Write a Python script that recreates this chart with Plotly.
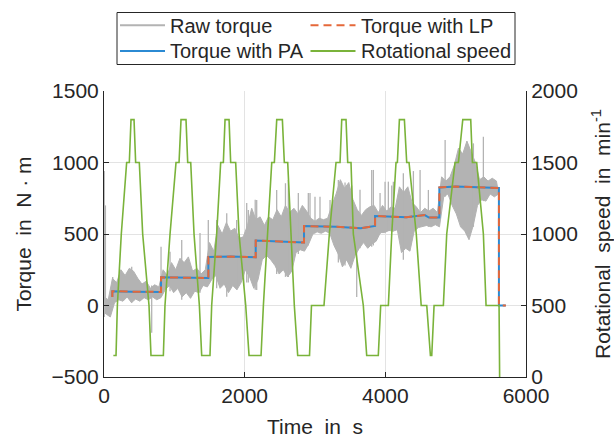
import plotly.graph_objects as go

# ---- raw torque band: upper / lower edge sampled every 60 s (N·m) ----
raw_time = list(range(0, 5581, 60))
raw_hi = [60, 40, 190, 160, 250, 210, 260, 240, 190, 150, 170, 120, 145, 130,
          250, 210, 300, 250, 330, 300, 340, 240, 260, 220, 250, 440, 380, 560,
          500, 580, 520, 540, 470, 480, 560, 680, 600, 620, 560, 620, 600, 670,
          620, 700, 650, 680, 640, 700, 660, 610, 590, 610, 600, 610, 700, 780,
          880, 820, 860, 740, 670, 630, 670, 690, 700, 650, 700, 660, 690, 680,
          830, 790, 830, 720, 690, 650, 680, 660, 680, 650, 900, 870, 900, 980,
          1100, 1060, 1150, 1080, 1000, 880, 900, 870, 890, 870]
raw_lo = [-60, -80, 20, 40, 30, 60, 20, 45, 30, 55, 40, 60, 40, 55,
          110, 140, 90, 120, 60, 90, 50, 100, 90, 140, 130, 180, 210, 120,
          150, 90, 140, 110, 160, 250, 200, 120, 180, 320, 350, 320, 280, 220,
          250, 200, 240, 370, 390, 380, 430, 500, 515, 505, 520, 505, 420, 360,
          270, 320, 260, 350, 400, 440, 400, 430, 450, 510, 510, 525, 520, 530,
          370, 400, 380, 520, 545, 550, 560, 550, 565, 550, 760, 780, 700, 640,
          550, 520, 460, 560, 700, 740, 730, 780, 760, 780]

# isolated peaks of the raw signal: time (s), low end, high end (N·m)
spike_time = [3, 20, 124, 394, 678, 811, 939, 1105, 1365, 1483, 1602, 1745,
              1886, 2029, 2052, 2150, 2171, 2455, 2580, 2621, 2763, 2905, 2929,
              3000, 3071, 3214, 3332, 3427, 3522, 3593, 3640, 3806, 3830, 3925,
              3996, 4043, 4091, 4114, 4256, 4399, 4494, 4612, 4850, 5252, 5394]
spike_lo = [-80, -60, 20, 20, -190, 110, 100, 40, 90, 180, 120, 62,
            110, 160, 160, 110, 108, 220, 200, 200, 360, 420, 500,
            505, 505, 505, 300, 280, 330, 60, 400, 410, 420, 500,
            510, 520, 520, 520, 320, 520, 550, 550, 760, 550, 730]
spike_hi = [940, 700, 200, 271, 140, 411, 376, 458, 507, 598, 598, 645,
            598, 716, 668, 740, 738, 808, 855, 878, 787, 787, 787,
            761, 761, 738, 878, 860, 840, 670, 810, 948, 948, 787,
            866, 866, 840, 866, 924, 940, 948, 808, 1157, 1134, 1180]

# ---- torque after post-processing (PA) and low-pass filtering (LP) ----
pa_time = [118, 118, 400, 811, 811, 1200, 1484, 1484, 1800, 2157, 2157, 2500,
           2844, 2844, 3300, 3650, 3854, 3854, 4300, 4560, 4620, 4768, 4768,
           5000, 5400, 5615, 5615, 5713]
pa_torque = [60, 100, 97, 95, 197, 195, 192, 340, 342, 338, 455, 447,
             440, 556, 550, 540, 556, 626, 617, 632, 615, 616, 826,
             832, 824, 822, 0, 0]
lp_time = [118, 118, 400, 811, 811, 1200, 1484, 1484, 1800, 2157, 2157, 2500,
           2844, 2844, 3300, 3650, 3854, 3854, 4300, 4560, 4620, 4768, 4768,
           5000, 5400, 5615, 5615, 5713]
lp_torque = [60, 100, 97, 95, 197, 195, 192, 340, 342, 338, 455, 447,
             440, 556, 550, 540, 556, 626, 617, 632, 615, 616, 826,
             832, 824, 822, 0, 0]

# ---- rotational speed profile (min^-1) ----
speed_time = [133, 171, 190, 246, 322, 360, 384, 427, 450, 502, 550, 640, 668,
              844, 867, 939, 1024, 1067, 1095, 1166, 1190, 1233, 1280, 1356, 1389,
              1507, 1531, 1602, 1659, 1697, 1721, 1778, 1801, 1872, 1920, 2015, 2062,
              2233, 2266, 2328, 2385, 2422, 2456, 2536, 2564, 2612, 2659, 2706, 2754,
              2922, 2950, 3128, 3204, 3299, 3356, 3380, 3441, 3465, 3512, 3545, 3687, 3735,
              3900, 3934, 4043, 4091, 4152, 4171, 4200, 4271, 4304, 4337, 4440, 4510,
              4589, 4641, 4660, 4693, 4825,
              4873, 4991, 5039, 5101, 5214, 5238, 5299, 5394, 5432, 5617, 5625]
speed = [150, 150, 500, 1000, 1500, 1500, 1800, 1800, 1500, 1500, 1000, 500, 150,
         150, 500, 1000, 1500, 1500, 1800, 1800, 1500, 1500, 1000, 500, 150,
         150, 500, 1000, 1500, 1500, 1800, 1800, 1500, 1500, 1000, 500, 150,
         150, 500, 1000, 1500, 1500, 1800, 1800, 1500, 1500, 1000, 500, 150,
         150, 500, 500, 1000, 1500, 1500, 1800, 1800, 1500, 1500, 1000, 500, 150,
         150, 500, 500, 1000, 1500, 1500, 1800, 1800, 1500, 1500, 1000, 500,
         500, 150, 150, 500, 500,
         1000, 1500, 1500, 1800, 1800, 1500, 1500, 1000, 500, 500, 0]

x_ticks = [0, 2000, 4000, 6000]
torque_ticks = [-500, 0, 500, 1000, 1500]
speed_ticks = [0, 500, 1000, 1500, 2000]

FONT = "Liberation Sans, Arial, sans-serif"
INK = "#262626"
GRAY = "#b3b3b3"
BLUE = "#2b8ad3"
ORANGE = "#e5683a"
GREEN = "#7ab33a"
LP_DASH = "8px,5px"

# band outline: upper edge forward, lower edge backward
band_x = raw_time + [t + 30 for t in raw_time][::-1]
band_y = raw_hi + raw_lo[::-1]
spike_x, spike_y = [], []
for t, lo, hi in zip(spike_time, spike_lo, spike_hi):
    spike_x += [t, t, None]
    spike_y += [lo, hi, None]

fig = go.Figure()
fig.add_trace(go.Scatter(x=band_x, y=band_y, mode="lines", fill="toself",
                         fillcolor=GRAY, line=dict(color=GRAY, width=1),
                         name="Raw torque", showlegend=False, hoverinfo="skip"))
fig.add_trace(go.Scatter(x=spike_x, y=spike_y, mode="lines",
                         line=dict(color=GRAY, width=1.3),
                         name="Raw torque", showlegend=False))
fig.add_trace(go.Scatter(x=pa_time, y=pa_torque, mode="lines", name="Torque with PA",
                         line=dict(color=BLUE, width=2), showlegend=False))
fig.add_trace(go.Scatter(x=lp_time, y=lp_torque, mode="lines", name="Torque with LP",
                         line=dict(color=ORANGE, width=2, dash=LP_DASH), showlegend=False))
fig.add_trace(go.Scatter(x=speed_time, y=speed, mode="lines", name="Rotational speed",
                         line=dict(color=GREEN, width=1.6), yaxis="y2", showlegend=False))

# ---- legend box (two columns, two rows) above the axes ----
L, R, T, B = 104, 526, 91, 377          # plot area in pixels
def px(x):
    return (x - L) / (R - L)
def py(y):
    return (B - y) / (B - T)

shapes = [dict(type="rect", xref="paper", yref="paper",
               x0=px(117), x1=px(515), y0=py(64.5), y1=py(12.5),
               line=dict(color=INK, width=1), fillcolor="white", layer="above")]
annotations = []
legend_items = [
    ("Raw torque", GRAY, None, 120, 25.3),
    ("Torque with LP", ORANGE, LP_DASH, 310.5, 25.3),
    ("Torque with PA", BLUE, None, 120, 51),
    ("Rotational speed", GREEN, None, 310.5, 51),
]
for label, color, dash, x0, y0 in legend_items:
    line = dict(color=color, width=2)
    if dash:
        line["dash"] = dash
    shapes.append(dict(type="line", xref="paper", yref="paper",
                       x0=px(x0), x1=px(x0 + 45), y0=py(y0), y1=py(y0),
                       line=line, layer="above"))
    annotations.append(dict(text=label, xref="paper", yref="paper",
                            x=px(x0 + 48), y=py(y0 + 0.5), xanchor="left", yanchor="middle",
                            showarrow=False, font=dict(family=FONT, size=20, color=INK)))

axis_common = dict(showline=True, linecolor=INK, linewidth=1, ticks="inside",
                   ticklen=5, tickcolor=INK, zeroline=False, automargin=False,
                   tickfont=dict(family=FONT, size=21, color=INK))

fig.update_layout(
    width=614, height=439,
    margin=dict(l=L, r=614 - R, t=T, b=439 - B),
    paper_bgcolor="white", plot_bgcolor="white",
    font=dict(family=FONT, color=INK),
    showlegend=False,
    shapes=shapes, annotations=annotations,
    xaxis=dict(range=[0, 6000], tickvals=x_ticks, showgrid=True, gridcolor="#e3e3e3",
               title=dict(text="Time  in  s", font=dict(family=FONT, size=21, color=INK),
                          standoff=13),
               **axis_common),
    yaxis=dict(range=[-500, 1500], tickvals=torque_ticks, showgrid=True, gridcolor="#e3e3e3",
               title=dict(text="Torque  in  N · m", font=dict(family=FONT, size=21, color=INK),
                          standoff=14),
               **axis_common),
    yaxis2=dict(range=[0, 2000], tickvals=speed_ticks, overlaying="y", side="right",
                showgrid=False,
                title=dict(text="Rotational  speed  in  min<sup>-1</sup>",
                           font=dict(family=FONT, size=21, color=INK), standoff=18),
                **axis_common),
)

fig.write_html("out.html")
